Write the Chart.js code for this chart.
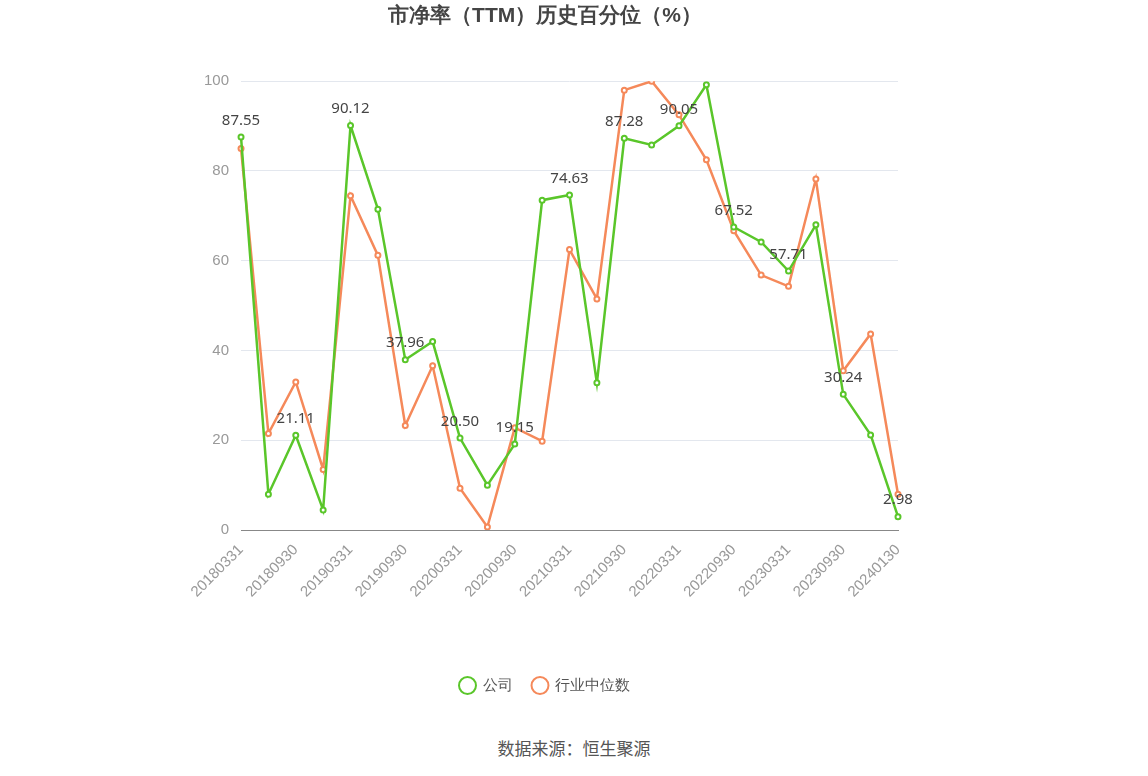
<!DOCTYPE html>
<html>
<head>
<meta charset="utf-8">
<script src="https://cdn.jsdelivr.net/npm/chart.js@4"></script>
<style>
  body { margin: 0; background: #fff; font-family: "Noto Sans CJK SC", "Noto Sans", sans-serif; }
  #wrap { width: 1148px; height: 776px; position: relative; }
  #source { position: absolute; top: 735px; width: 100%; text-align: center; font-size: 17px; color: #555; }
</style>
</head>
<body>
<div id="wrap">
  <canvas id="chart" width="1148" height="703"></canvas>
  <div id="source">数据来源：恒生聚源</div>
</div>
<script>
// --- Data ---
const dates = ['20180331','20180630','20180930','20181231','20190331','20190630','20190930','20191231',
  '20200331','20200630','20200930','20201231','20210331','20210630','20210930','20211231',
  '20220331','20220630','20220930','20221231','20230331','20230630','20230930','20231231','20240130'];
const company = [87.55, 8.0, 21.11, 4.5, 90.12, 71.5, 37.96, 42.0, 20.50, 10.0, 19.15, 73.5, 74.63,
  32.8, 87.28, 85.8, 90.05, 99.2, 67.52, 64.2, 57.71, 68.0, 30.24, 21.2, 2.98];
const industry = [85.0, 21.5, 33.0, 13.5, 74.5, 61.2, 23.3, 36.6, 9.3, 0.7, 22.8, 19.8, 62.5,
  51.5, 98.0, 100.0, 92.5, 82.5, 66.7, 56.8, 54.3, 78.2, 35.5, 43.7, 8.0];

// labels on every other company point
const pointLabels = {
  id: 'pointLabels',
  afterDatasetsDraw(chart) {
    const ctx = chart.ctx;
    const meta = chart.getDatasetMeta(0);
    ctx.save();
    ctx.font = '15px "Noto Sans", sans-serif';
    ctx.fillStyle = '#444';
    ctx.textAlign = 'center';
    ctx.textBaseline = 'bottom';
    meta.data.forEach((p, i) => {
      if (i % 2 === 0) ctx.fillText(company[i].toFixed(2), p.x, p.y - 9);
    });
    ctx.restore();
  }
};

new Chart(document.getElementById('chart'), {
  type: 'line',
  data: {
    labels: dates,
    datasets: [{
      label: '公司',
      data: company,
      borderColor: '#5ac62a',
      backgroundColor: '#fff',
      borderWidth: 2.5,
      pointRadius: 2.5,
      pointBorderWidth: 2,
      pointBorderColor: '#5ac62a',
      tension: 0
    }, {
      label: '行业中位数',
      data: industry,
      borderColor: '#f5895a',
      backgroundColor: '#fff',
      borderWidth: 2.5,
      pointRadius: 2.5,
      pointBorderWidth: 2,
      pointBorderColor: '#f5895a',
      tension: 0
    }]
  },
  options: {
    responsive: false,
    animation: false,
    layout: { padding: { left: 192, right: 250, top: 0, bottom: 0 } },
    scales: {
      y: {
        min: 0, max: 100,
        ticks: { stepSize: 20, color: '#999', font: { size: 15 }, padding: 12 },
        grid: { color: '#e3e7ee', drawTicks: false },
        border: { display: false }
      },
      x: {
        offset: false,
        afterFit: s => { s.height += 54; },
        ticks: {
          color: '#999', font: { size: 15 }, maxRotation: 45, minRotation: 45, autoSkip: false,
          callback: (v, i) => i % 2 === 0 ? dates[i] : ''
        },
        grid: { display: false, drawTicks: true },
        border: { color: '#888' }
      }
    },
    plugins: {
      title: {
        display: true, text: '市净率（TTM）历史百分位（%）',
        color: '#444', font: { size: 21, weight: 'bold' }, padding: { top: 4, bottom: 52 }
      },
      legend: {
        position: 'bottom',
        labels: {
          usePointStyle: true, pointStyle: 'circle', color: '#555', font: { size: 15 },
          boxHeight: 12, padding: 20
        }
      },
      tooltip: { enabled: false }
    }
  },
  plugins: [pointLabels]
});
</script>
</body>
</html>
